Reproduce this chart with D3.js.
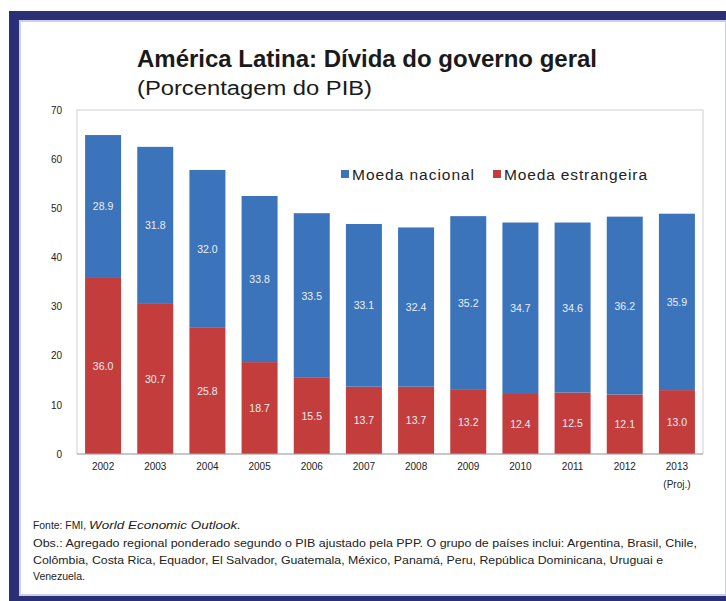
<!DOCTYPE html>
<html><head><meta charset="utf-8">
<script src="https://cdn.jsdelivr.net/npm/d3@7"></script>
<style>html,body{margin:0;padding:0;background:#fff;}svg{display:block;}</style>
</head><body>
<script>
const years = ["2002","2003","2004","2005","2006","2007","2008","2009","2010","2011","2012","2013"];
const foreignCurrency = [36.0,30.7,25.8,18.7,15.5,13.7,13.7,13.2,12.4,12.5,12.1,13.0];
const domesticCurrency = [28.9,31.8,32.0,33.8,33.5,33.1,32.4,35.2,34.7,34.6,36.2,35.9];
const seriesNames = ["Moeda nacional","Moeda estrangeira"];
const yTicks = [0,10,20,30,40,50,60,70];
const title = "América Latina: Dívida do governo geral";
const subtitle = "(Porcentagem do PIB)";

const W = 726, H = 601;
const svg = d3.select("body").append("svg").attr("width", W).attr("height", H);

// frame
svg.append("rect").attr("x",9).attr("y",11).attr("width",W-9).attr("height",H-11).attr("fill","#2b3076");
svg.append("rect").attr("x",20).attr("y",21).attr("width",W-20).attr("height",574).attr("fill","#fff")
  .attr("stroke","#c9cfea").attr("stroke-width",2);

// title
svg.append("text").attr("x",137).attr("y",67).text(title)
  .attr("font-family","Liberation Sans, Arial, sans-serif").attr("font-weight","bold")
  .attr("font-size",24).attr("fill","#1a1a1a")
  .attr("textLength",460).attr("lengthAdjust","spacingAndGlyphs");
svg.append("text").attr("x",137).attr("y",95).text(subtitle)
  .attr("font-family","Liberation Sans, Arial, sans-serif")
  .attr("font-size",20).attr("fill","#1a1a1a")
  .attr("textLength",235).attr("lengthAdjust","spacingAndGlyphs");

const pLeft = 77, pRight = 703, pTop = 110, pBottom = 454;
const x = d3.scaleBand().domain(years).range([pLeft,pRight]).paddingInner(0.31).paddingOuter(0.155);
const y = d3.scaleLinear().domain([0,70]).range([pBottom,pTop]);

// plot box
svg.append("rect").attr("x",pLeft).attr("y",pTop).attr("width",pRight-pLeft).attr("height",pBottom-pTop)
  .attr("fill","none").attr("stroke","#cfcfcf").attr("stroke-width",1);

const data = years.map((yr,i)=>({year:yr, foreign:foreignCurrency[i], domestic:domesticCurrency[i]}));
const stack = d3.stack().keys(["foreign","domestic"])(data);
const colors = {foreign:"#c23d3c", domestic:"#3b74ba"};

stack.forEach(layer=>{
  const g = svg.append("g");
  g.selectAll("rect").data(layer).join("rect")
    .attr("x",d=>x(d.data.year)).attr("width",x.bandwidth())
    .attr("y",d=>y(d[1])).attr("height",d=>y(d[0])-y(d[1]))
    .attr("fill",colors[layer.key]);
  g.selectAll("text").data(layer).join("text")
    .attr("x",d=>x(d.data.year)+x.bandwidth()/2)
    .attr("y",d=>y((d[0]+d[1])/2)+4)
    .attr("text-anchor","middle")
    .attr("font-family","Liberation Sans, Arial, sans-serif").attr("font-size",10.5)
    .attr("fill","#eceef6")
    .text(d=>d.data[layer.key].toFixed(1));
});

// baseline
svg.append("line").attr("x1",pLeft).attr("x2",pRight).attr("y1",pBottom).attr("y2",pBottom)
  .attr("stroke","#a8a8a8").attr("stroke-width",1);

// y axis
const yAxis = d3.axisLeft(y).tickValues(yTicks).tickSize(0).tickPadding(15);
const ya = svg.append("g").attr("transform",`translate(${pLeft},0)`).call(yAxis);
ya.select(".domain").remove();
ya.selectAll("text").attr("font-family","Liberation Sans, Arial, sans-serif").attr("font-size",10).attr("fill","#222");

// x axis
const xAxis = d3.axisBottom(x).tickSize(0).tickPadding(9);
const xa = svg.append("g").attr("transform",`translate(0,${pBottom})`).call(xAxis);
xa.select(".domain").remove();
xa.selectAll("text").attr("font-family","Liberation Sans, Arial, sans-serif").attr("font-size",10).attr("fill","#222");
svg.append("text").attr("x",x("2013")+x.bandwidth()/2).attr("y",pBottom+34).attr("text-anchor","middle")
  .attr("font-family","Liberation Sans, Arial, sans-serif").attr("font-size",10).attr("fill","#222").text("(Proj.)");

// legend
const legendItems = [
  {name:seriesNames[0], color:colors.domestic, x:341, w:122},
  {name:seriesNames[1], color:colors.foreign, x:493, w:143}
];
legendItems.forEach(it=>{
  svg.append("rect").attr("x",it.x).attr("y",170).attr("width",8).attr("height",8).attr("fill",it.color);
  svg.append("text").attr("x",it.x+11).attr("y",180).text(it.name)
    .attr("font-family","Liberation Sans, Arial, sans-serif").attr("font-size",15.5).attr("fill","#222")
    .attr("textLength",it.w).attr("lengthAdjust","spacing");
});

// footer
const ff = "Liberation Sans Narrow, Liberation Sans, Arial, sans-serif";
const f1 = svg.append("text").attr("x",33).attr("y",529).attr("font-family",ff).attr("font-size",10.5).attr("fill","#222");
f1.append("tspan").text("Fonte: FMI, ").attr("textLength",56).attr("lengthAdjust","spacingAndGlyphs");
f1.append("tspan").attr("font-style","italic").text("World Economic Outlook.").attr("textLength",152).attr("lengthAdjust","spacingAndGlyphs");
const footLines = [
  {t:"Obs.: Agregado regional ponderado segundo o PIB ajustado pela PPP. O grupo de países inclui: Argentina, Brasil, Chile,", y:547, w:664},
  {t:"Colômbia, Costa Rica, Equador, El Salvador, Guatemala, México, Panamá, Peru, República Dominicana, Uruguai e", y:564, w:630},
  {t:"Venezuela.", y:580, w:null}
];
footLines.forEach(l=>{
  const t = svg.append("text").attr("x",33).attr("y",l.y).attr("font-family",ff).attr("font-size",10.5).attr("fill","#222").text(l.t);
  if(l.w) t.attr("textLength",l.w).attr("lengthAdjust","spacingAndGlyphs");
});
</script>
</body></html>
